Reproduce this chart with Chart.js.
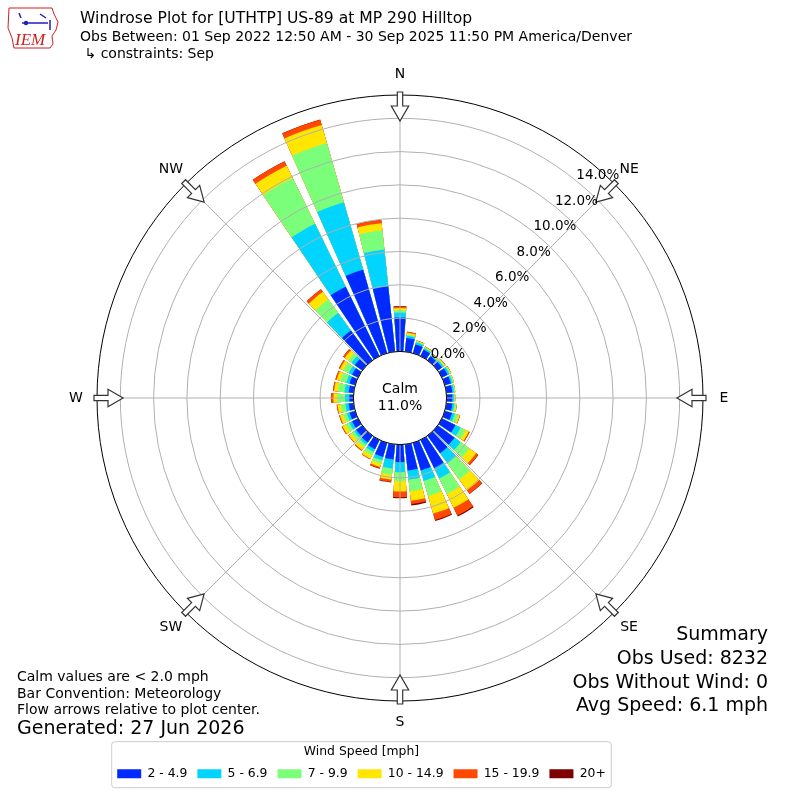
<!DOCTYPE html>
<html>
<head>
<meta charset="utf-8">
<script src="https://cdn.jsdelivr.net/npm/chart.js@4/dist/chart.umd.min.js"></script>
<style>
  html, body { margin: 0; padding: 0; background: #fff; }
</style>
</head>
<body>
<canvas id="rose" width="800" height="800"></canvas>
<script>
// direction bins (deg, meteorological) and speed bins
const directions = [0, 10, 20, 30, 40, 50, 60, 70, 80, 90, 100, 110, 120, 130, 140, 150, 160, 170,
                    180, 190, 200, 210, 220, 230, 240, 250, 260, 270, 280, 290, 300, 310, 320, 330, 340, 350];
const speedBins = ['2 - 4.9', '5 - 6.9', '7 - 9.9', '10 - 14.9', '15 - 19.9', '20+'];
const binColors = ['#002aff', '#00d4ff', '#7bff7b', '#ffe600', '#ff4800', '#7f0000'];

// percent of observations per direction, one array per speed bin
const spd2to5   = [2.04, 0.83, 0.55, 0.42, 0.30, 0.32, 0.38, 0.38, 0.36, 0.34, 0.36, 0.45, 0.90, 1.25, 1.30, 1.88, 1.73, 1.58,
                   1.06, 0.91, 0.88, 0.62, 0.50, 0.45, 0.40, 0.35, 0.30, 0.24, 0.30, 0.35, 0.40, 0.56, 2.21, 4.64, 5.22, 3.94];
const spd5to7   = [0.30, 0.13, 0.13, 0.10, 0.08, 0.10, 0.12, 0.10, 0.10, 0.10, 0.12, 0.17, 0.35, 0.45, 0.75, 0.70, 0.64, 0.55,
                   0.60, 0.55, 0.21, 0.18, 0.15, 0.15, 0.18, 0.17, 0.20, 0.26, 0.25, 0.20, 0.22, 0.24, 1.30, 4.20, 4.21, 2.23];
const spd7to10  = [0.14, 0.08, 0.06, 0.06, 0.05, 0.08, 0.08, 0.07, 0.06, 0.06, 0.10, 0.22, 0.33, 0.65, 1.20, 1.04, 0.95, 0.71,
                   0.54, 0.37, 0.21, 0.23, 0.20, 0.20, 0.24, 0.23, 0.28, 0.46, 0.40, 0.37, 0.36, 0.24, 1.00, 3.06, 3.70, 1.16];
const spd10to15 = [0.12, 0.10, 0.04, 0.04, 0.05, 0.06, 0.04, 0.03, 0.02, 0.02, 0.05, 0.10, 0.22, 0.50, 0.80, 0.92, 1.11, 0.57,
                   0.62, 0.30, 0.21, 0.23, 0.22, 0.20, 0.23, 0.20, 0.19, 0.24, 0.23, 0.24, 0.22, 0.26, 0.57, 0.82, 1.13, 0.43];
const spd15to20 = [0.10, 0.06, 0.02, 0.02, 0.02, 0.02, 0.01, 0.00, 0.00, 0.00, 0.01, 0.02, 0.06, 0.15, 0.25, 0.51, 0.39, 0.20,
                   0.34, 0.14, 0.09, 0.04, 0.05, 0.04, 0.05, 0.05, 0.05, 0.14, 0.07, 0.08, 0.08, 0.12, 0.19, 0.29, 0.32, 0.20];
const spd20up   = [0.02, 0.00, 0.00, 0.00, 0.00, 0.00, 0.00, 0.00, 0.00, 0.00, 0.00, 0.00, 0.00, 0.02, 0.02, 0.07, 0.06, 0.08,
                   0.06, 0.03, 0.02, 0.00, 0.00, 0.00, 0.00, 0.00, 0.00, 0.01, 0.00, 0.00, 0.00, 0.01, 0.01, 0.01, 0.02, 0.01];

const ringValues = [0, 2, 4, 6, 8, 10, 12, 14];
const calmPct = 11.0;

const titleLines = [
  'Windrose Plot for [UTHTP] US-89 at MP 290 Hilltop',
  'Obs Between: 01 Sep 2022 12:50 AM - 30 Sep 2025 11:50 PM America/Denver',
  ' \u21b3 constraints: Sep'
];
const noteLines = ['Calm values are < 2.0 mph', 'Bar Convention: Meteorology', 'Flow arrows relative to plot center.'];
const generatedText = 'Generated: 27 Jun 2026';
const summaryLines = ['Summary', 'Obs Used: 8232', 'Obs Without Wind: 0', 'Avg Speed: 6.1 mph'];
const compass = ['N', 'NE', 'E', 'SE', 'S', 'SW', 'W', 'NW'];

// radial axis: the calm circle sits between R_MIN and 0
const R_MIN = -2.8;
const R_MAX = 15.4;
const BAR_DEG = 8;
const GAP_DEG = 2;
const FONT = "'DejaVu Sans', sans-serif";

const speedSeries = [spd2to5, spd5to7, spd7to10, spd10to15, spd15to20, spd20up];

// polar area arcs all start at the centre, so the stack is drawn as cumulative
// totals (largest drawn underneath); every bar is followed by an empty gap slot
function cumulativeWithGaps(k) {
  return directions.flatMap((d, i) => {
    let total = 0;
    for (let j = 0; j <= k; j++) total += speedSeries[j][i];
    return [total, null];
  });
}

const roseDecor = {
  id: 'roseDecor',
  afterLayout(chart) {
    // matplotlib put the legend a bit left of the plot centre
    const lg = chart.legend;
    const shift = 361.5 - (lg.left + lg.right) / 2;
    lg.left += shift;
    lg.right += shift;
  },
  afterDraw(chart) {
    const ctx = chart.ctx;
    const r = chart.scales.r;
    const cx = r.xCenter, cy = r.yCenter;
    const dist = v => r.getDistanceFromCenterForValue(v);
    const calmR = dist(0), outerR = dist(r.max);
    const pt = (deg, rr, off = 0) => {
      const t = deg * Math.PI / 180;
      return [cx + rr * Math.sin(t) + off * Math.cos(t), cy - rr * Math.cos(t) + off * Math.sin(t)];
    };

    ctx.save();
    // spokes every 45 deg
    ctx.strokeStyle = '#b0b0b0';
    ctx.lineWidth = 1;
    for (let a = 0; a < 360; a += 45) {
      const [x, y] = pt(a, outerR);
      ctx.beginPath();
      ctx.moveTo(cx, cy);
      ctx.lineTo(x, y);
      ctx.stroke();
    }

    // calm circle
    ctx.beginPath();
    ctx.arc(cx, cy, calmR, 0, Math.PI * 2);
    ctx.fillStyle = '#fff';
    ctx.fill();
    ctx.strokeStyle = '#000';
    ctx.stroke();
    ctx.fillStyle = '#000';
    ctx.textAlign = 'center';
    ctx.textBaseline = 'middle';
    ctx.font = '14px ' + FONT;
    ctx.fillText('Calm', cx, cy - 9);
    ctx.fillText(calmPct.toFixed(1) + '%', cx, cy + 8);

    // flow arrows pointing at the centre
    const shape = [[outerR + 3, -2.7], [outerR - 11, -2.7], [outerR - 11, -8.7], [outerR - 26, 0],
                   [outerR - 11, 8.7], [outerR - 11, 2.7], [outerR + 3, 2.7]];
    for (let a = 0; a < 360; a += 45) {
      ctx.beginPath();
      shape.forEach(([rr, off], i) => {
        const [x, y] = pt(a, rr, off);
        if (i === 0) ctx.moveTo(x, y); else ctx.lineTo(x, y);
      });
      ctx.closePath();
      ctx.fillStyle = '#fff';
      ctx.fill();
      ctx.strokeStyle = '#333';
      ctx.lineWidth = 1.2;
      ctx.stroke();
    }

    // compass labels
    ctx.fillStyle = '#000';
    ctx.font = '14px ' + FONT;
    compass.forEach((c, i) => {
      const [x, y] = pt(i * 45, outerR + 21);
      ctx.fillText(c, x, y);
    });

    // ring labels
    ctx.font = '13.5px ' + FONT;
    ringValues.forEach(v => {
      const [x, y] = pt(40, dist(v));
      ctx.fillText(v.toFixed(1) + '%', x + 18, y - 8);
    });

    // header (first line is stretched to the title box like the original)
    ctx.textAlign = 'left';
    ctx.font = '15.6px ' + FONT;
    ctx.fillText(titleLines[0], 80, 19);
    ctx.font = '14px ' + FONT;
    ctx.fillText(titleLines[1], 80, 37);
    ctx.fillText(titleLines[2], 80, 54);

    // notes bottom left
    noteLines.forEach((t, i) => ctx.fillText(t, 17, [677, 694, 710][i]));
    ctx.font = '19px ' + FONT;
    ctx.fillText(generatedText, 17, 729);

    // summary bottom right
    ctx.textAlign = 'right';
    summaryLines.forEach((t, i) => ctx.fillText(t, 768, [635, 659, 683, 706][i]));

    // legend frame
    const lg = chart.legend;
    const pad = lg.options.labels.padding;
    const contentW = lg.lineWidths[0] - pad;
    const lcx = (lg.left + lg.right) / 2;
    ctx.strokeStyle = '#cccccc';
    ctx.lineWidth = 1;
    ctx.beginPath();
    ctx.roundRect(lcx - contentW / 2 - 5.5, lg.top + 0.5, contentW + 11, 46, 3);
    ctx.stroke();

    // IEM logo
    ctx.strokeStyle = '#d02020';
    ctx.lineWidth = 1;
    ctx.beginPath();
    ctx.moveTo(9, 8); ctx.lineTo(52, 8); ctx.lineTo(54, 14); ctx.lineTo(58, 22);
    ctx.lineTo(56, 30); ctx.lineTo(52, 36); ctx.lineTo(53, 44); ctx.lineTo(50, 48);
    ctx.lineTo(14, 48); ctx.lineTo(12, 38); ctx.lineTo(8, 28); ctx.lineTo(9, 8);
    ctx.stroke();
    ctx.strokeStyle = '#2020c0';
    ctx.lineWidth = 1.5;
    ctx.beginPath();
    ctx.moveTo(22, 23); ctx.lineTo(48, 23);
    ctx.moveTo(19, 13); ctx.lineTo(21, 18);
    ctx.moveTo(40, 14); ctx.lineTo(46, 18);
    ctx.moveTo(50, 20); ctx.lineTo(50, 30);
    ctx.stroke();
    ctx.fillStyle = '#2020c0';
    ctx.beginPath(); ctx.arc(26, 23, 2.2, 0, Math.PI * 2); ctx.fill();
    ctx.fillStyle = '#d02020';
    ctx.font = 'italic 17px "Liberation Serif", serif';
    ctx.textAlign = 'left';
    ctx.textBaseline = 'alphabetic';
    ctx.fillText('IEM', 15, 45);
    ctx.restore();
  }
};

new Chart(document.getElementById('rose'), {
  type: 'polarArea',
  data: {
    labels: directions.flatMap(d => [d + '\u00b0', '']),
    datasets: speedBins.map((name, k) => ({
      label: name,
      data: cumulativeWithGaps(k),
      backgroundColor: c => (c.dataIndex % 2 ? 'rgba(0,0,0,0)' : binColors[k]),
      borderWidth: 0,
      angle: c => (c.dataIndex % 2 ? GAP_DEG : BAR_DEG)
    }))
  },
  options: {
    responsive: false,
    animation: false,
    events: [],
    layout: { padding: { left: 97, right: 97, top: 56, bottom: 10 } },
    scales: {
      r: {
        min: R_MIN,
        max: R_MAX,
        startAngle: -BAR_DEG / 2,
        afterBuildTicks: s => { s.ticks = [R_MIN, ...ringValues, R_MAX].map(v => ({ value: v })); },
        ticks: { display: false },
        angleLines: { display: false },
        pointLabels: { display: false },
        grid: {
          z: 1,
          circular: true,
          lineWidth: 1,
          color: c => (c.tick.value === R_MAX ? '#000' : c.tick.value < 0 ? 'rgba(0,0,0,0)' : '#b0b0b0')
        }
      }
    },
    plugins: {
      tooltip: { enabled: false },
      legend: {
        position: 'bottom',
        onClick: () => {},
        labels: {
          boxWidth: 24,
          boxHeight: 9,
          padding: 10,
          color: '#000',
          font: { family: FONT, size: 12.4 },
          generateLabels: chart => chart.data.datasets.map((ds, i) => ({
            text: ds.label, fillStyle: binColors[i], strokeStyle: binColors[i],
            lineWidth: 0, hidden: false, datasetIndex: i
          }))
        },
        title: {
          display: true,
          text: 'Wind Speed [mph]',
          color: '#000',
          font: { family: FONT, size: 12.4, lineHeight: 1 },
          padding: { top: 4, bottom: 0 }
        }
      }
    }
  },
  plugins: [roseDecor]
});
</script>
</body>
</html>
